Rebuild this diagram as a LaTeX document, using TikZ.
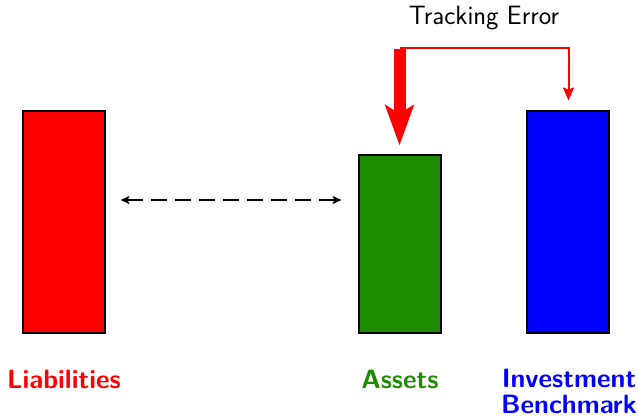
\documentclass[tikz,border=0pt]{standalone}
\usepackage{fontspec}
\usetikzlibrary{arrows.meta}
\definecolor{assetgreen}{RGB}{30,140,0}
\tikzset{
    bar/.style={draw=black, line width=2pt, minimum width=82pt, inner sep=0pt, outer sep=0pt},
    barlabel/.style={font=\fontsize{26.5}{26}\selectfont\sffamily\bfseries, align=center, anchor=base}
}
\begin{document}
\begin{tikzpicture}[x=1pt, y=-1pt]
            \useasboundingbox (0,0) rectangle (638,418);
            \node[bar, fill=red, minimum height=222pt] (liab) at (63.5,221.5) {};
            \node[bar, fill=assetgreen, minimum height=178pt] (assets) at (399.5,243.5) {};
            \node[bar, fill=blue, minimum height=222pt] (bench) at (567.5,221.5) {};
            \node[barlabel, text=red] (liablabel) at (64,388) {Liabilities};
            \node[barlabel, text=assetgreen] (assetslabel) at (400,388) {Assets};
            \node[barlabel, text=blue, anchor=north] (benchlabel) at (569,366) {Investment\\Benchmark};
            \draw[line width=1.5pt, dash pattern=on 16pt off 8pt, {Stealth[length=9pt,width=8pt,inset=2pt]}-{Stealth[length=9pt,width=8pt,inset=2pt]}]
                ([xshift=16pt,yshift=21.5pt]liab.east) -- ([xshift=-17pt,yshift=43.5pt]assets.west);
            \coordinate (tl) at (399.5,48);
            \coordinate (tr) at (568.5,48);
            \node[font=\fontsize{26.5}{28}\selectfont\sffamily] (te) at (484,18) {Tracking Error};
            \draw[red, line width=2pt, -{Stealth[length=13pt,width=11pt,inset=2pt]}] (tl) -- (tr) -- ([xshift=1pt,yshift=10pt]bench.north);
            \draw[red, line width=12pt, -{Stealth[length=40pt,width=28pt,inset=8pt]}] ([yshift=-1pt]tl) -- ([yshift=9pt]assets.north);
        \end{tikzpicture}
\end{document}
